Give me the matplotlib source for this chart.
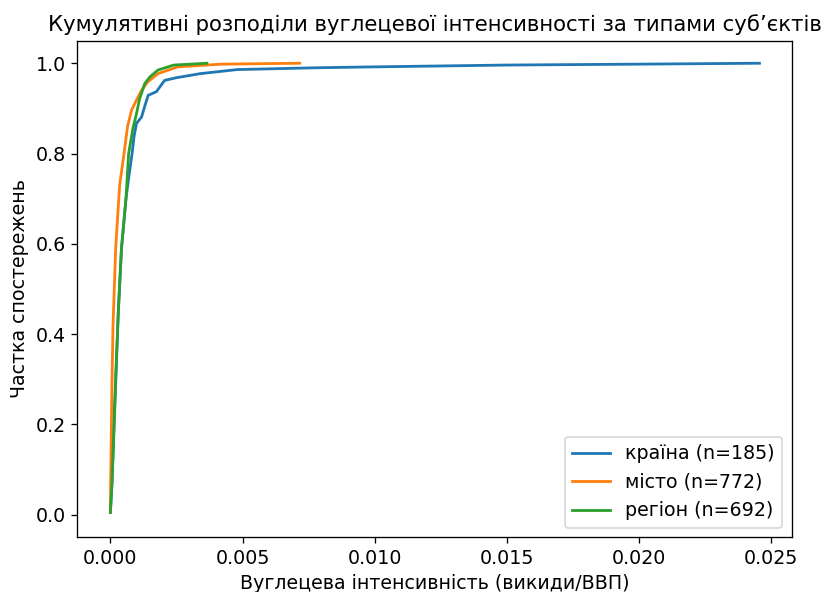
import matplotlib
matplotlib.use("Agg")
import matplotlib.pyplot as plt

# points
country_x = [0.0, 0.00006, 0.0002, 0.0003, 0.00042, 0.00059, 0.0007, 0.00082,
             0.0009, 0.00099, 0.00118, 0.0013, 0.00143, 0.00174, 0.0019,
             0.00205, 0.0025, 0.0034, 0.0048, 0.0078, 0.010, 0.015, 0.020,
             0.02455]
country_y = [0.005, 0.07, 0.29, 0.45, 0.59, 0.70, 0.75, 0.80,
             0.84, 0.867, 0.881, 0.905, 0.929, 0.937, 0.95,
             0.962, 0.968, 0.977, 0.986, 0.990, 0.992, 0.996, 0.998,
             1.0]

city_x = [0.0, 0.00001, 0.00006, 0.0001, 0.0002, 0.00035, 0.0005, 0.00065,
          0.0008, 0.001, 0.00118, 0.0014, 0.0018, 0.00255, 0.0042, 0.00716]
city_y = [0.005, 0.07, 0.29, 0.42, 0.59, 0.73, 0.793, 0.86,
          0.896, 0.92, 0.94, 0.958, 0.977, 0.992, 0.998, 1.0]

region_x = [0.0, 0.00006, 0.00019, 0.0003, 0.00042, 0.00059, 0.00069, 0.00085,
            0.00099, 0.0011, 0.0013, 0.0015, 0.0018, 0.0024, 0.00365]
region_y = [0.005, 0.07, 0.29, 0.45, 0.59, 0.70, 0.80, 0.855,
            0.889, 0.92, 0.955, 0.97, 0.985, 0.996, 1.0]

labels = ["країна (n=185)", "місто (n=772)", "регіон (n=692)"]

plt.rcParams["font.size"] = 11.6

dpi = 118
fig = plt.figure(figsize=(828 / dpi, 592 / dpi), dpi=dpi)
ax = fig.add_subplot(111)
fig.subplots_adjust(left=0.0934, right=0.9565, top=0.9313, bottom=0.0924)

ax.plot(country_x, country_y, label=labels[0], lw=1.7)
ax.plot(city_x, city_y, label=labels[1], lw=1.7)
ax.plot(region_x, region_y, label=labels[2], lw=1.7)

ax.set_xlim(-0.00125, 0.02578)
ax.set_ylim(-0.05, 1.05)
ax.set_title("Кумулятивні розподіли вуглецевої інтенсивності за типами суб’єктів",
             fontsize=13.0)
ax.set_xlabel("Вуглецева інтенсивність (викиди/ВВП)")
ax.set_ylabel("Частка спостережень")
ax.legend(loc="lower right")

fig.savefig("out.png", dpi=dpi)
